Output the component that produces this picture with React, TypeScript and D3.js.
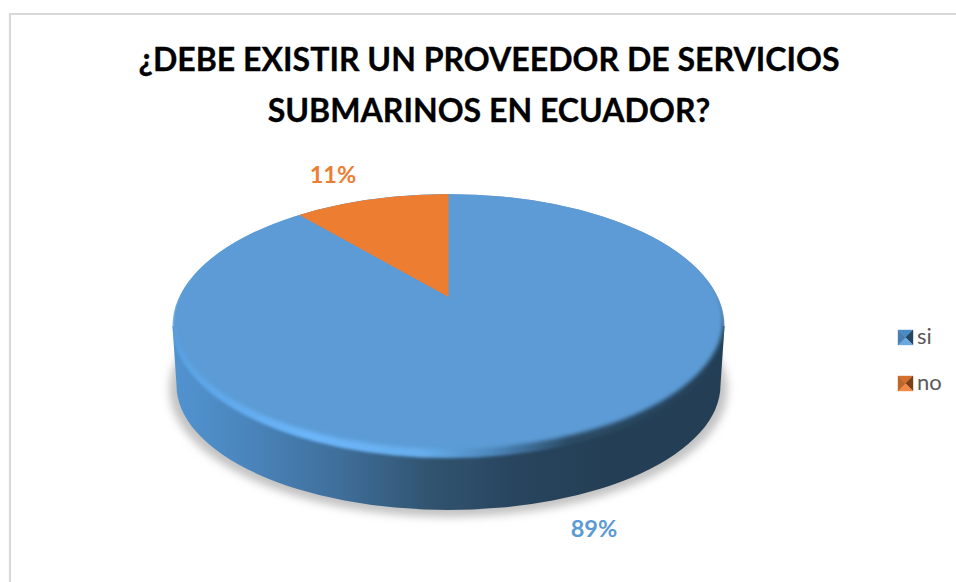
import * as d3 from 'd3'

const categories = ['si', 'no']
const values = [89, 11]
const sliceColors = ['#5b9bd5', '#ed7d31']
const labelColors = ['#5b9bd5', '#ed7d31']
const titleLines = ['¿DEBE EXISTIR UN PROVEEDOR DE SERVICIOS', 'SUBMARINOS EN ECUADOR?']

const width = 956
const height = 582
const font = "Lato, 'Open Sans', sans-serif"

// the disc is drawn in perspective, so its centre sits above the middle of the ellipse
const cx = 448.5
const skew = 0.195
const yApex = 297
const yBottom = 450
const a = yApex - yBottom * (1 - skew) // solved from the y anchors
const radiusX = 270.7

function project(angle: number): [number, number] {
  const px = Math.sin(angle)
  const py = Math.cos(angle)
  const w = 1 + skew * py
  return [cx + (radiusX * px) / w, (a * py + yApex) / w]
}

// slices run clockwise from 12 o'clock
const arcs = d3.pie<number>().sort(null)(values)

function slicePath(start: number, end: number) {
  const steps = d3.range(0, 121).map(i => start + ((end - start) * i) / 120)
  const line = d3.line()
  return `M${cx},${yApex}L` + (line(steps.map(project)) as string).slice(1) + 'Z'
}

// legend marker: small square split into four bevel triangles
function LegendMark({ x, y, shades }: { x: number; y: number; shades: string[] }) {
  const s = 15
  const c = s / 2
  const tris = [
    `0,0 ${s},0 ${c},${c}`,
    `${s},0 ${s},${s} ${c},${c}`,
    `0,${s} ${s},${s} ${c},${c}`,
    `0,0 0,${s} ${c},${c}`
  ]
  return (
    <g transform={`translate(${x},${y})`}>
      {tris.map((t, i) => <polygon key={i} points={t} fill={shades[i]} stroke={shades[i]} strokeWidth={0.4} />)}
    </g>
  )
}

const legendShades = [
  ['#4a8ac4', '#27455f', '#6aa9e2', '#477fb2'],
  ['#d5702c', '#7a3f18', '#f08a45', '#c0652a']
]

const sideStops: Array<[number, string]> = [
  [0, '#5193d0'],
  [0.12, '#4b87bf'],
  [0.3, '#3f6f9b'],
  [0.47, '#31536f'],
  [0.62, '#28455f'],
  [0.78, '#243f55'],
  [1, '#243f55']
]
const rimStops: Array<[number, string]> = [
  [0, '#5aa2e4'],
  [0.25, '#6cb6fa'],
  [0.45, '#66aeee'],
  [0.58, '#4d87bc'],
  [0.72, '#2a4a64'],
  [1, '#243f55']
]

export default function App() {
  const top = project(0)[1]
  const bottom = project(Math.PI)[1]
  const faceCy = (top + bottom) / 2
  const faceRy = (bottom - top) / 2
  const rimRx = 276
  const rimBottom = 458
  const rimCy = (top + rimBottom) / 2
  const rimRy = (rimBottom - top) / 2
  const wall = `M${cx - rimRx},${rimCy}L${cx - 272},385A272,125 0 0 0 ${cx + 272},385L${cx + rimRx},${rimCy}Z`

  return (
    <svg width={width} height={height} style={{ position: 'absolute', left: 0, top: 0, background: '#fff' }}>
      <defs>
        <filter id="shadowBlur" x="-10%" y="-10%" width="120%" height="120%">
          <feGaussianBlur stdDeviation="4" />
        </filter>
        <filter id="faceBlur" x="-5%" y="-5%" width="110%" height="110%">
          <feGaussianBlur stdDeviation="2" />
        </filter>
        <filter id="rimBlur" x="-5%" y="-5%" width="110%" height="110%">
          <feGaussianBlur stdDeviation="1.5" />
        </filter>
        <linearGradient id="side" x1="0" x2="1" y1="0" y2="0">
          {sideStops.map(([o, c]) => <stop key={o} offset={o} stopColor={c} />)}
        </linearGradient>
        <linearGradient id="rim" x1="0" x2="1" y1="0" y2="0">
          {rimStops.map(([o, c]) => <stop key={o} offset={o} stopColor={c} />)}
        </linearGradient>
        <clipPath id="topClip">
          <ellipse cx={cx} cy={rimCy} rx={rimRx} ry={rimRy} />
        </clipPath>
        <clipPath id="bodyClip">
          <ellipse cx={cx} cy={rimCy} rx={rimRx} ry={rimRy} />
          <path d={wall} />
        </clipPath>
      </defs>

      {/* chart frame, only top and left are on the page */}
      <path d="M956,14H10V582" fill="none" stroke="#d9d9d9" strokeWidth={2.2} />

      {/* title */}
      <text textAnchor="middle" fontFamily={font} fontWeight={700} fontSize={32.1} stroke="#000" strokeWidth={0.3} fill="#000">
        {titleLines.map((t, i) => (
          <tspan key={i} x={489} y={71 + i * 51}>{t}</tspan>
        ))}
      </text>

      {/* ground shadow */}
      <ellipse cx={cx} cy={389} rx={279} ry={128} fill="#c2c2c2" filter="url(#shadowBlur)" />

      {/* side wall */}
      <path d={wall} fill="url(#side)" />

      {/* bevel rim and top face */}
      <g clipPath="url(#bodyClip)">
        <ellipse cx={cx} cy={rimCy} rx={rimRx} ry={rimRy} fill="url(#rim)" filter="url(#rimBlur)" />
      </g>
      <g clipPath="url(#topClip)">
        <ellipse
          cx={cx}
          cy={faceCy - 3}
          rx={rimRx - 1}
          ry={faceRy + 2}
          fill={sliceColors[0]}
          filter="url(#faceBlur)"
        />
        {arcs.map((d, i) => (
          i === 0 ? null : (
            <path key={i} d={slicePath(d.startAngle, d.endAngle)} fill={sliceColors[i]} />
          )
        ))}
      </g>

      {/* data labels */}
      <g fontFamily={font} fontWeight={700} fontSize={23.5}>
        <text x={594} y={537} textAnchor="middle" fill={labelColors[0]}>{values[0]}%</text>
        <text x={333} y={183} textAnchor="middle" fill={labelColors[1]}>{values[1]}%</text>
      </g>

      {/* legend */}
      {categories.map((c, i) => (
        <g key={c}>
          <LegendMark x={898} y={330 + i * 46} shades={legendShades[i]} />
          <text x={917} y={344 + i * 46} fontFamily={font} fontSize={22} fill="#595959">
            {c}
          </text>
        </g>
      ))}
    </svg>
  )
}
